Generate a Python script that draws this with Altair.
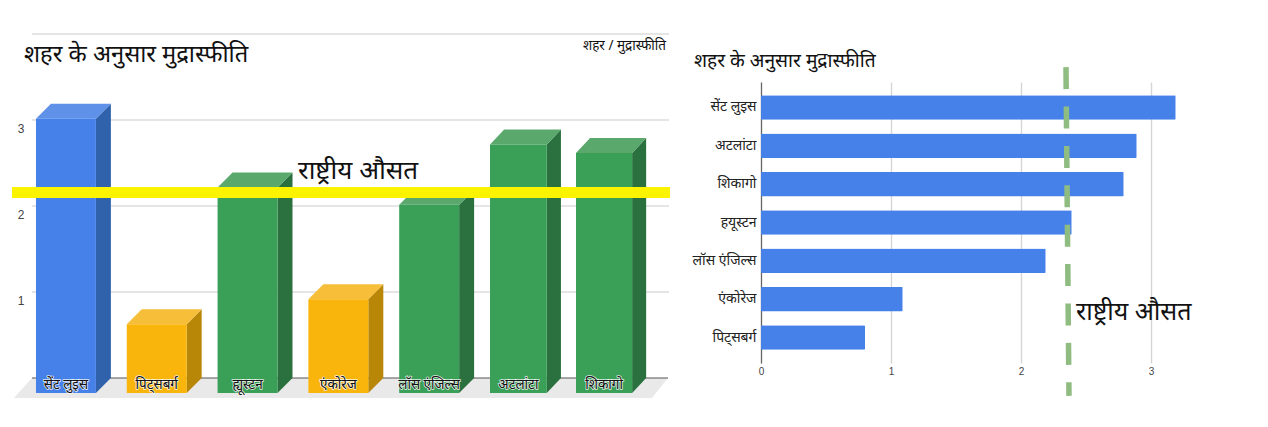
import altair as alt
import pandas as pd

cities = ["सेंट लुइस", "पिट्सबर्ग", "ह्यूस्टन", "एंकोरेज", "लॉस एंजिल्स", "अटलांटा", "शिकागो"]
right_labels = ["सेंट लुइस", "पिट्सबर्ग", "हयूस्टन", "एंकोरेज", "लॉस एंजिल्स", "अटलांटा", "शिकागो"]
inflation = [3.19, 0.80, 2.39, 1.09, 2.19, 2.89, 2.79]
front_colors = ["#4681ea", "#f9b50b", "#3aa057", "#f9b50b", "#3aa057", "#3aa057", "#3aa057"]
side_colors = ["#2f62aa", "#b98708", "#2b7140", "#b98708", "#2b7140", "#2b7140", "#2b7140"]
top_colors = ["#5f91e8", "#f6be39", "#5ba86d", "#f6be39", "#5ba86d", "#5ba86d", "#5ba86d"]
left_ticks = [1, 2, 3]
left_grid = [1, 2, 3, 4]
right_ticks = [0, 1, 2, 3]
left_average = 2.157
right_average_top = 2.346
right_average_bottom = 2.369

TITLE = "शहर के अनुसार मुद्रास्फीति"
SUBTITLE = "शहर / मुद्रास्फीति"
AVERAGE = "राष्ट्रीय औसत"
FONT = "Noto Sans"

WIDTH = 0.66
DX = 0.165
DY = 0.1744

x_scale = alt.Scale(domain=[-0.308, 5, 6, 7.129], range=[0, 482, 568, 664])
y_scale = alt.Scale(domain=[-0.2442, 4], range=[365, 0], nice=False, zero=False)
X = lambda f: alt.X(f, type="quantitative", scale=x_scale, axis=None)
Y = lambda f: alt.Y(f, type="quantitative", scale=y_scale, axis=None)

front, side, top = [], [], []
for i, (c, v) in enumerate(zip(cities, inflation)):
    front.append(dict(city=c, x=i, x2=i + WIDTH, y=v - DY, y2=-DY, mid=i + WIDTH / 2, col=front_colors[i]))
    side += [
        dict(city=c, x=i + WIDTH, y=v - DY, y2=-DY, col=side_colors[i]),
        dict(city=c, x=i + WIDTH + DX, y=v, y2=0, col=side_colors[i]),
    ]
    top += [
        dict(city=c, y=v - DY, x=i, x2=i + WIDTH, col=top_colors[i]),
        dict(city=c, y=v, x=i + DX, x2=i + WIDTH + DX, col=top_colors[i]),
    ]
front, side, top = pd.DataFrame(front), pd.DataFrame(side), pd.DataFrame(top)

floor = pd.DataFrame({"y": [0, -0.2326], "x": [-0.044, -0.242], "x2": [7.08, 6.894]})

grid = alt.Chart(pd.DataFrame({"v": left_grid})).mark_rule(color="#dcdcdc", strokeWidth=1.4).encode(
    y=Y("v"), x=alt.value(24), x2=alt.value(661))
floor_l = alt.Chart(floor).mark_area(orient="horizontal", color="#e9e9e9").encode(
    y=Y("y"), x=X("x"), x2=alt.X2("x2"))
base = alt.Chart(pd.DataFrame({"v": [0]})).mark_rule(color="#555555", strokeWidth=1.2).encode(
    y=Y("v"), x=alt.value(24), x2=alt.value(660))
side_l = alt.Chart(side).mark_area().encode(
    x=X("x"), y=Y("y"), y2=alt.Y2("y2"), detail="city:N", color=alt.Color("col:N", scale=None))
top_l = alt.Chart(top).mark_area(orient="horizontal").encode(
    y=Y("y"), x=X("x"), x2=alt.X2("x2"), detail="city:N", color=alt.Color("col:N", scale=None))
front_l = alt.Chart(front).mark_rect().encode(
    x=X("x"), x2=alt.X2("x2"), y=Y("y"), y2=alt.Y2("y2"), color=alt.Color("col:N", scale=None))
labels_df = front.assign(ly=-DY + 0.09)
halo = alt.Chart(labels_df).mark_text(font=FONT, fontSize=13.5, stroke="white", strokeWidth=1.6, strokeOpacity=0.85, baseline="middle").encode(
    x=X("mid"), y=Y("ly"), text="city:N")
label = alt.Chart(labels_df).mark_text(font=FONT, fontSize=13.5, color="#111111", baseline="middle").encode(
    x=X("mid"), y=Y("ly"), text="city:N")
yellow = alt.Chart(pd.DataFrame({"v": [left_average]})).mark_rule(color="#fcf300", strokeWidth=11).encode(
    y=Y("v"), x=alt.value(4), x2=alt.value(662))
ticks_l = alt.Chart(pd.DataFrame({"v": left_ticks}).assign(p=lambda d: d.v - 0.105, t=lambda d: d.v.astype(str))).mark_text(
    font="Liberation Sans", fontSize=12, color="#444444", baseline="middle").encode(
    y=Y("p"), x=alt.value(13), text="t:N")


def note(text, x, y, size, align="left", color="#111111"):
    return alt.Chart(alt.Data(values=[{"t": text}])).mark_text(
        font=FONT, fontSize=size, align=align, baseline="middle", color=color
    ).encode(x=alt.value(x), y=alt.value(y), text="t:N")


left = alt.layer(
    grid, floor_l, base, side_l, top_l, front_l, ticks_l, halo, label, yellow,
    note(TITLE, 16, 21, 23.7), note(SUBTITLE, 658, 12, 13.5, align="right"), note(AVERAGE, 290, 137, 26),
).properties(width=664, height=365)

header = note(TITLE, -67, 27, 19.2).properties(width=442, height=48)

order = sorted(zip(right_labels, inflation), key=lambda r: -r[1])
right_df = pd.DataFrame(order, columns=["city", "value"])
rx = alt.Scale(domain=[0, 3.4], nice=False)
bars = alt.Chart(right_df).mark_bar(color="#4681ea", cornerRadius=1).encode(
    x=alt.X("value:Q", scale=rx, title=None, axis=alt.Axis(
        values=right_ticks, domain=False, ticks=False, labelFontSize=10, labelColor="#444444", labelFlush=False,
        labelFont="Liberation Sans", labelPadding=3, gridColor="#d5d5d5", gridWidth=1.4, format="d")),
    y=alt.Y("city:N", sort=[r[0] for r in order], title=None,
            scale=alt.Scale(paddingInner=0.36, paddingOuter=0.345),
            axis=alt.Axis(domain=True, domainColor="#666666", domainWidth=1.2, ticks=False, grid=False,
                          labelFont=FONT, labelFontSize=14, labelColor="#222222", labelPadding=5)),
)
avg = alt.Chart(pd.DataFrame({"v": [right_average_top, right_average_bottom], "p": [1.053, -0.117]})).mark_line(
    color="#8fbc80", strokeWidth=5.5, strokeDash=[22, 17.4]).encode(
    x=alt.X("v:Q", scale=rx),
    y=alt.Y("p:Q", scale=alt.Scale(domain=[0, 1], nice=False, zero=False), axis=None),
)
right_bars = alt.layer(bars, avg, note(AVERAGE, 315, 230, 25)).resolve_scale(y="independent").properties(width=442, height=281)
right = alt.vconcat(header, right_bars, spacing=0, bounds="flush")

chart = alt.hconcat(left, right, spacing=89, bounds="flush").properties(
    padding={"left": -2, "top": 25, "right": 0, "bottom": 0}, background="white"
).configure_view(stroke=None)

chart.save("out.html", embed_options={"renderer": "svg", "actions": False})
